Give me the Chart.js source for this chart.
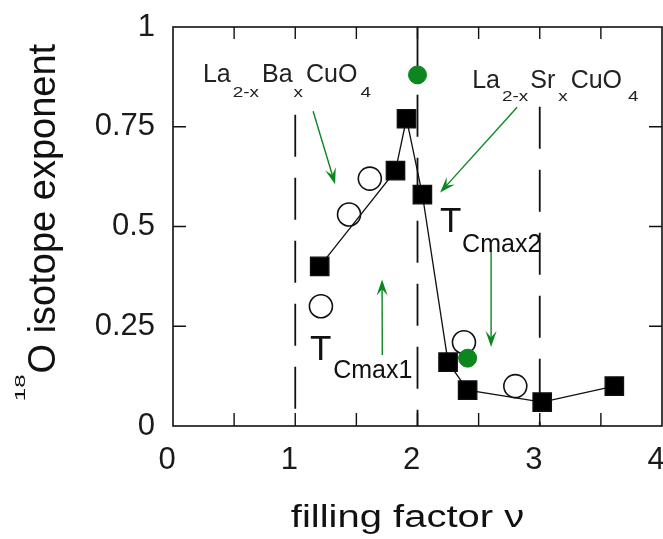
<!DOCTYPE html>
<html>
<head>
<meta charset="utf-8">
<script src="https://cdn.jsdelivr.net/npm/chart.js@4/dist/chart.umd.min.js"></script>
<style>
  html, body { margin: 0; padding: 0; background: #fff; }
  canvas { display: block; }
</style>
</head>
<body>
<canvas id="myChart" width="663" height="539"></canvas>
<script>
// filled squares (joined by a line)
var squareX = [1.20, 1.82, 1.91, 2.04, 2.25, 2.41, 3.02, 3.61];
var squareY = [0.40, 0.64, 0.77, 0.58, 0.16, 0.09, 0.06, 0.10];
// open circles
var circleX = [1.21, 1.44, 1.61, 2.38, 2.80];
var circleY = [0.30, 0.53, 0.62, 0.21, 0.10];
// green dots
var greenX = [2.00, 2.41];
var greenY = [0.88, 0.17];
// vertical reference lines (dashed from top value down to 0)
var refX = [1, 2, 3];
var refTop = [0.78, 0.83, 0.80];

var GREEN = "rgb(12,135,32)";
var FONT = "'Liberation Sans', Arial, sans-serif";

function pts(xs, ys) {
  return xs.map(function (x, i) { return { x: x, y: ys[i] }; });
}

// draw pieces of text one after another, with subscripts / scaling
function runs(ctx, x, y, parts) {
  parts.forEach(function (p) {
    ctx.save();
    ctx.font = p[1] + "px " + FONT;
    ctx.translate(x, y + p[2]);
    ctx.scale(p[3], 1);
    ctx.textAlign = "left";
    ctx.textBaseline = "alphabetic";
    ctx.fillText(p[0], 0, 0);
    var w = ctx.measureText(p[0]).width * p[3];
    ctx.restore();
    x += w + p[4];
  });
}

function arrow(ctx, x1, y1, x2, y2) {
  var a = Math.atan2(y2 - y1, x2 - x1);
  var L = 16, W = 5.5;
  var c = Math.cos(a), s = Math.sin(a);
  ctx.beginPath();
  ctx.moveTo(x1, y1);
  ctx.lineTo(x2 - 8 * c, y2 - 8 * s);
  ctx.stroke();
  ctx.beginPath();
  ctx.moveTo(x2, y2);
  ctx.lineTo(x2 - L * c + W * s, y2 - L * s - W * c);
  ctx.lineTo(x2 - 0.6 * L * c, y2 - 0.6 * L * s);
  ctx.lineTo(x2 - L * c - W * s, y2 - L * s + W * c);
  ctx.closePath();
  ctx.fill();
}

var decorations = {
  id: "decorations",
  afterDatasetsDraw: function (chart) {
    var ctx = chart.ctx;
    var xs = chart.scales.x, ys = chart.scales.y;
    var a = chart.chartArea;
    var X = function (v) { return xs.getPixelForValue(v); };
    var Y = function (v) { return ys.getPixelForValue(v); };

    ctx.save();
    // frame
    ctx.strokeStyle = "#111";
    ctx.lineWidth = 1.6;
    ctx.strokeRect(a.left, a.top, a.right - a.left, a.bottom - a.top);
    // inward ticks
    ctx.lineWidth = 1.4;
    ctx.beginPath();
    for (var v = 0.5; v < 4; v += 0.5) {
      ctx.moveTo(X(v), a.bottom); ctx.lineTo(X(v), a.bottom - 13);
      ctx.moveTo(X(v), a.top); ctx.lineTo(X(v), a.top + 12);
    }
    for (var t = 0.25; t < 1; t += 0.25) {
      ctx.moveTo(a.left, Y(t)); ctx.lineTo(a.left + 13, Y(t));
      ctx.moveTo(a.right, Y(t)); ctx.lineTo(a.right - 13, Y(t));
    }
    ctx.stroke();

    // green arrows
    ctx.strokeStyle = GREEN;
    ctx.fillStyle = GREEN;
    ctx.lineWidth = 1.4;
    arrow(ctx, X(1.146), Y(0.789), X(1.326), Y(0.606));
    arrow(ctx, X(2.815), Y(0.799), X(2.185), Y(0.585));
    arrow(ctx, X(1.712), Y(0.178), X(1.710), Y(0.367));
    arrow(ctx, X(2.602), Y(0.442), X(2.602), Y(0.198));

    // labels
    ctx.fillStyle = "#222";
    runs(ctx, X(0.245), Y(0.862), [
      ["La", 25, 0, 1, 2], ["2-x", 14, 15, 1.35, 3], ["Ba", 25, 0, 1, 1],
      ["x", 14, 15, 1.35, 3], ["CuO", 25, 0, 1, 3], ["4", 14, 15, 1.35, 0]
    ]);
    runs(ctx, X(2.447), Y(0.847), [
      ["La", 25, 0, 1, 2], ["2-x", 14, 13, 1.35, 2], ["Sr", 25, 0, 1, 3],
      ["x", 14, 13, 1.35, 3], ["CuO", 25, 0, 1, 6], ["4", 14, 13, 1.35, 0]
    ]);
    ctx.fillStyle = "#111";
    runs(ctx, X(2.185), Y(0.485), [["T", 35, 0, 1, 0]]);
    runs(ctx, X(2.365), Y(0.437), [["Cmax2", 25, 0, 1, 0]]);
    runs(ctx, X(1.121), Y(0.166), [["T", 35, 0, 1, 0]]);
    runs(ctx, X(1.310), Y(0.121), [["Cmax1", 25, 0, 1, 0]]);

    // axis titles
    ctx.fillStyle = "#111";
    ctx.save();
    ctx.font = "31px " + FONT;
    ctx.translate((a.left + a.right) / 2 - 10, 527);
    ctx.scale(1.29, 1);
    ctx.textAlign = "center";
    ctx.fillText("filling factor \u03bd", 0, 0);
    ctx.restore();

    ctx.save();
    ctx.translate(55, (a.top + a.bottom) / 2 - 4);
    ctx.rotate(-Math.PI / 2);
    ctx.font = "15px " + FONT;
    var w18 = ctx.measureText("18").width * 1.6;
    ctx.font = "38px " + FONT;
    var wMain = ctx.measureText("O isotope exponent").width;
    var start = -(w18 + 1 + wMain) / 2;
    ctx.save();
    ctx.translate(start, -30);
    ctx.scale(1.6, 1);
    ctx.font = "15px " + FONT;
    ctx.fillText("18", 0, 0);
    ctx.restore();
    ctx.font = "38px " + FONT;
    ctx.fillText("O isotope exponent", start + w18 + 1, 0);
    ctx.restore();

    ctx.restore();
  }
};

var datasets = [
  {
    data: pts(greenX, greenY), order: 0, showLine: false,
    pointStyle: "circle", pointRadius: 9,
    backgroundColor: GREEN, borderColor: GREEN, borderWidth: 1
  },
  {
    data: pts(squareX, squareY), order: 1, showLine: true,
    pointStyle: "rect", pointRadius: 13,
    backgroundColor: "#000", borderColor: "#111", borderWidth: 1.3
  },
  {
    data: pts(circleX, circleY), order: 2, showLine: false,
    pointStyle: "circle", pointRadius: 11.5,
    backgroundColor: "rgba(255,255,255,0)", borderColor: "#111", borderWidth: 1.6
  },
  {
    data: [{ x: 2, y: 1 }, { x: 2, y: 0.885 }], order: 3, showLine: true,
    pointRadius: 0, borderColor: "#111", borderWidth: 1.8
  }
];
refX.forEach(function (x, i) {
  datasets.push({
    data: [{ x: x, y: refTop[i] }, { x: x, y: 0 }], order: 3, showLine: true,
    pointRadius: 0, borderColor: "#111", borderWidth: 1.8, borderDash: [42, 21]
  });
});

var ctx = document.getElementById("myChart").getContext("2d");
var myChart = new Chart(ctx, {
  type: "scatter",
  data: { datasets: datasets },
  options: {
    responsive: false,
    animation: false,
    clip: false,
    layout: { autoPadding: false, padding: { top: 27, right: 1, left: 0, bottom: 0 } },
    plugins: { legend: { display: false }, tooltip: { enabled: false } },
    scales: {
      x: {
        type: "linear", min: 0, max: 4,
        grid: { display: false, drawTicks: false },
        border: { display: false },
        ticks: {
          stepSize: 1, padding: 16, labelOffset: -6,
          color: "#1a1a1a", font: { size: 31, family: FONT }
        },
        afterFit: function (s) { s.height = 113; s.paddingLeft = 0; s.paddingRight = 0; }
      },
      y: {
        type: "linear", min: 0, max: 1,
        grid: { display: false, drawTicks: false },
        border: { display: false },
        ticks: {
          stepSize: 0.25, padding: 18,
          color: "#1a1a1a", font: { size: 31, family: FONT },
          callback: function (v) { return String(v); }
        },
        afterFit: function (s) { s.width = 173; s.paddingTop = 0; s.paddingBottom = 0; }
      }
    }
  },
  plugins: [decorations]
});
</script>
</body>
</html>
